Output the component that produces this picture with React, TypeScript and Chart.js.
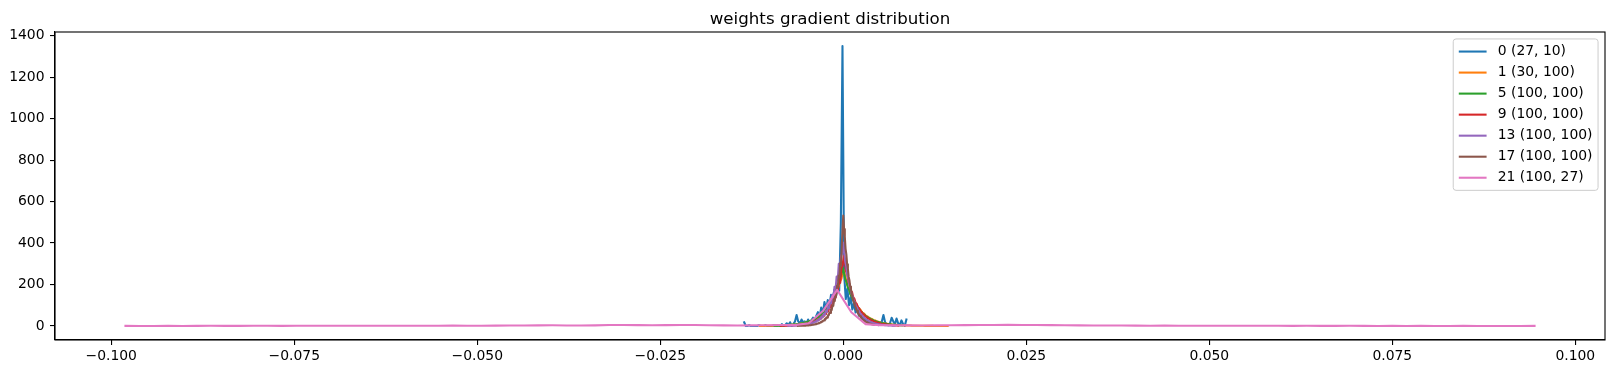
import React, { useEffect, useRef } from "react";
import { Chart, registerables } from "chart.js";

Chart.register(...registerables);

const FONT = "'DejaVu Sans', 'Liberation Sans', sans-serif";
const TITLE = "weights gradient distribution";

const LABELS = [
  "0 (27, 10)",
  "1 (30, 100)",
  "5 (100, 100)",
  "9 (100, 100)",
  "13 (100, 100)",
  "17 (100, 100)",
  "21 (100, 27)",
];

const COLORS = ["#1f77b4", "#ff7f0e", "#2ca02c", "#d62728", "#9467bd", "#8c564b", "#e377c2"];

// histogram bin left edges: first and last (100 bins each)
const BIN_LO = [-0.01354, -0.0114, -0.0094, -0.0085, -0.0075, -0.0062, -0.09806];
const BIN_HI = [0.00862, 0.01426, 0.008, 0.0075, 0.007, 0.0042, 0.09443];

const L0 = [
  18, 0, 0, 4, 0, 0, 0, 0, 0, 4, 0, 0, 0, 4, 0, 0, 0, 0, 4, 0, 0, 4, 0, 9, 0, 4, 13, 4, 18, 0, 9, 22,
  53, 22, 13, 31, 18, 22, 13, 31, 18, 27, 40, 22, 49, 67, 40, 89, 58, 116, 80, 125, 98, 150, 120, 175,
  140, 200, 170, 497, 1350, 250, 130, 180, 100, 140, 80, 110, 65, 80, 50, 58, 36, 40, 27, 31, 18, 22,
  13, 18, 9, 13, 4, 9, 22, 53, 18, 9, 4, 13, 40, 22, 9, 36, 13, 4, 27, 9, 0, 31,
];

const L1 = [
  0.5, 0.7, 0.6, 0.9, 1.0, 1.0, 1.4, 1.3, 1.8, 2.0, 2.1, 2.9, 2.8, 3.6, 4.1, 4.5, 5.6, 6.0, 7.4, 7.9,
  9.8, 10.5, 12.9, 13.6, 16.5, 18.2, 22.8, 24.1, 30.2, 32.0, 39.5, 42.1, 51.8, 56.0, 69.1, 74.3, 91.0,
  97.5, 121, 130, 160, 172, 210, 228, 272, 240, 200, 182, 150, 138, 113, 104, 85, 79, 64, 59, 49, 45,
  37, 34, 28, 26, 21, 19.6, 16, 14.8, 12.1, 11.2, 9.2, 8.4, 7.0, 6.4, 5.3, 4.9, 4.0, 3.7, 3.0, 2.8, 2.3,
  2.1, 1.7, 1.6, 1.3, 1.2, 1.0, 0.9, 0.8, 0.7, 0.6, 0.55, 0.45, 0.42, 0.35, 0.32, 0.27, 0.25, 0.2, 0.2,
  0.15, 0.15,
];

const L5 = [
  1.2, 2.4, 1.5, 2.8, 1.9, 3.0, 2.4, 3.6, 2.9, 4.4, 3.5, 5.3, 4.6, 6.4, 5.6, 7.6, 7.0, 9.1, 8.3, 11.0,
  10.5, 13.3, 12.8, 16.0, 15.7, 19.5, 19.0, 23.4, 23.1, 28.5, 28.0, 34.6, 34.2, 42.0, 42.5, 50.1, 51.0,
  61.5, 62.3, 74.0, 76.5, 90.2, 93.0, 110, 113, 132, 137, 160, 168, 195, 204, 236, 248, 282, 258, 226,
  212, 186, 175, 152, 143, 125, 118, 103, 97, 85, 80, 69, 66, 57, 54, 47, 45, 39, 37, 32, 30.5, 26.4,
  25.0, 21.6, 20.6, 17.8, 17.0, 14.6, 14.0, 12.0, 11.5, 9.9, 9.5, 8.1, 7.8, 6.7, 6.4, 5.5, 5.3, 4.5,
  4.4, 3.7, 3.6, 3.0,
];

const L9 = [
  0.8, 1.5, 1.0, 1.6, 1.3, 2.0, 1.8, 2.5, 2.3, 3.1, 2.8, 3.9, 3.4, 4.8, 4.3, 5.9, 5.3, 7.3, 6.6, 9.0,
  8.2, 11.2, 10.1, 13.8, 12.6, 17.0, 15.6, 21.0, 19.5, 26.1, 24.2, 32.5, 30.0, 40.5, 37.2, 50.4, 46.5,
  62.8, 58.0, 78.0, 71.5, 97.0, 89.0, 120, 110, 148, 136, 182, 168, 225, 208, 280, 290, 338, 305, 262,
  248, 212, 200, 171, 163, 139, 131, 112, 106, 90, 86, 72, 69, 59, 56, 47, 45, 38, 36.5, 31, 29.4, 25,
  23.7, 20.1, 19.1, 16.2, 15.4, 13.1, 12.4, 10.6, 10.0, 8.5, 8.1, 6.9, 6.5, 5.6, 5.3, 4.5, 4.3, 3.6,
  3.4, 2.9, 2.8, 2.3,
];

const L13 = [
  0.7, 1.4, 0.9, 1.6, 1.2, 2.0, 1.6, 2.6, 2.1, 3.3, 2.7, 4.2, 3.5, 5.4, 4.6, 6.9, 5.9, 8.7, 7.6, 11.0,
  9.8, 14.0, 12.5, 17.8, 16.0, 22.5, 20.5, 28.6, 26.0, 36.2, 33.0, 46.0, 42.0, 58.5, 53.5, 74.0, 68.0,
  94.0, 86.0, 119, 109, 150, 138, 189, 175, 238, 220, 300, 278, 335, 348, 402, 362, 310, 288, 244, 228,
  192, 181, 152, 143, 121, 114, 96, 90, 76, 72, 60, 57, 47.5, 45, 37.5, 35.5, 29.6, 28.0, 23.4, 22.2,
  18.5, 17.5, 14.6, 13.9, 11.5, 11.0, 9.1, 8.7, 7.2, 6.9, 5.7, 5.4, 4.5, 4.3, 3.6, 3.4, 2.8, 2.7, 2.2,
  2.1, 1.8, 1.7, 1.4,
];

const L17 = [
  0.6, 0.9, 0.8, 1.1, 1.0, 1.3, 1.2, 1.6, 1.5, 2.0, 1.9, 2.5, 2.4, 3.1, 3.0, 3.8, 3.7, 4.8, 4.6, 5.9,
  5.8, 7.3, 7.2, 9.1, 8.9, 11.3, 11.0, 14.0, 13.8, 17.4, 17.1, 21.6, 21.0, 26.9, 26.2, 33.5, 32.5, 41.5,
  40.5, 51.8, 50.5, 64.5, 62.5, 80.5, 78.0, 100, 97, 125, 121, 156, 150, 195, 187, 243, 233, 303, 290,
  378, 462, 532, 468, 430, 372, 345, 298, 276, 238, 221, 190, 177, 152, 142, 122, 113, 97, 91, 78, 73,
  62, 58, 50, 46.5, 40, 37.2, 32, 29.8, 25.6, 23.9, 20.5, 19.1, 16.4, 15.3, 13.1, 12.2, 10.5, 9.8, 8.4,
  7.8, 6.7, 6.3,
];

const L21 = [
  0.5, 0.0, 0.3, 0.5, 0.3, 0.5, 0.8, 0.5, 0.5, 1.0, 0.8, 0.5, 0.8, 1.0, 0.8, 1.3, 1.0, 1.0, 1.3, 1.5,
  1.3, 1.0, 1.5, 1.8, 1.5, 1.3, 1.8, 2.1, 2.6, 3.1, 3.6, 2.6, 2.3, 3.1, 4.6, 5.1, 4.1, 3.6, 4.1, 5.1,
  4.6, 3.6, 3.1, 2.6, 3.1, 3.6, 4.6, 4.1, 13, 72, 174, 66, 9, 4, 3.6, 3.1, 2.6, 3.1, 3.6, 4.1, 4.6, 5.1,
  5.6, 5.1, 4.6, 4.1, 3.6, 3.1, 2.6, 2.3, 2.1, 1.8, 1.5, 1.8, 1.5, 1.3, 1.0, 1.3, 1.0, 0.8, 1.0, 0.8,
  0.5, 0.8, 0.5, 0.5, 0.8, 0.5, 0.3, 0.5, 0.3, 0.5, 0.3, 0.3, 0.5, 0.3, 0.0, 0.3, 0.3, 0.5,
];

const SERIES = [L0, L1, L5, L9, L13, L17, L21];

const X_TICKS = [-0.1, -0.075, -0.05, -0.025, 0, 0.025, 0.05, 0.075, 0.1];
const Y_TICKS = [0, 200, 400, 600, 800, 1000, 1200, 1400];

const TICK_FS = 13.9;
const TITLE_FS = 16.67;

function fmtX(v: number): string {
  const a = Math.abs(v) < 1e-12 ? 0 : v;
  return (a < 0 ? "\u2212" : "") + Math.abs(a).toFixed(3);
}

const decorPlugin = {
  id: "decor",
  afterDatasetsDraw(chart: any) {
    const { ctx, chartArea } = chart;
    const { left, right, top, bottom } = chartArea;
    ctx.save();
    ctx.strokeStyle = "#000";
    ctx.lineWidth = 1.1;
    ctx.strokeRect(left, top, right - left, bottom - top);
    ctx.restore();
  },
  afterDraw(chart: any) {
    const { ctx, chartArea } = chart;
    const { left, right, top } = chartArea;
    ctx.save();
    // title
    ctx.fillStyle = "#000";
    ctx.font = `${TITLE_FS}px ${FONT}`;
    ctx.textAlign = "center";
    ctx.textBaseline = "alphabetic";
    ctx.fillText(TITLE, (left + right) / 2, top - 8.33);

    // legend
    const fs = TICK_FS;
    ctx.font = `${fs}px ${FONT}`;
    const pad = 0.4 * fs;
    const handle = 2 * fs;
    const gap = 0.8 * fs;
    const rowH = 14.08;
    const spacing = 0.5 * fs;
    let maxW = 0;
    for (const l of LABELS) maxW = Math.max(maxW, ctx.measureText(l).width);
    const w = pad + handle + gap + maxW + pad;
    const h = 2 * pad + LABELS.length * rowH + (LABELS.length - 1) * spacing;
    const bx = right - 0.5 * fs - w;
    const by = top + 0.5 * fs;
    const r = 0.2 * fs;
    ctx.beginPath();
    ctx.moveTo(bx + r, by);
    ctx.lineTo(bx + w - r, by);
    ctx.arcTo(bx + w, by, bx + w, by + r, r);
    ctx.lineTo(bx + w, by + h - r);
    ctx.arcTo(bx + w, by + h, bx + w - r, by + h, r);
    ctx.lineTo(bx + r, by + h);
    ctx.arcTo(bx, by + h, bx, by + h - r, r);
    ctx.lineTo(bx, by + r);
    ctx.arcTo(bx, by, bx + r, by, r);
    ctx.closePath();
    ctx.fillStyle = "rgba(255,255,255,0.8)";
    ctx.fill();
    ctx.strokeStyle = "#cccccc";
    ctx.lineWidth = 1;
    ctx.stroke();

    ctx.textAlign = "left";
    ctx.textBaseline = "middle";
    LABELS.forEach((lab, i) => {
      const cy = by + pad + rowH / 2 + i * (rowH + spacing);
      ctx.strokeStyle = COLORS[i];
      ctx.lineWidth = 2.08;
      ctx.beginPath();
      ctx.moveTo(bx + pad, cy);
      ctx.lineTo(bx + pad + handle, cy);
      ctx.stroke();
      ctx.fillStyle = "#000";
      ctx.fillText(lab, bx + pad + handle + gap, cy);
    });
    ctx.restore();
  },
};

export default function App() {
  const ref = useRef<HTMLCanvasElement | null>(null);

  useEffect(() => {
    if (!ref.current) return;
    const datasets = SERIES.map((vals, i) => {
      const lo = BIN_LO[i];
      const hi = BIN_HI[i];
      const n = vals.length;
      const pts = vals.map((y, j) => ({ x: lo + ((hi - lo) * j) / (n - 1), y }));
      return {
        label: LABELS[i],
        data: pts,
        borderColor: COLORS[i],
        backgroundColor: COLORS[i],
        borderWidth: 2.08,
        pointRadius: 0,
        pointHoverRadius: 0,
        tension: 0,
        fill: false,
        borderJoinStyle: "round" as const,
        borderCapStyle: "square" as const,
        order: SERIES.length - 1 - i,
      };
    });

    const xmin = Math.min(...BIN_LO);
    const xmax = Math.max(...BIN_HI);
    const xpad = 0.05 * (xmax - xmin);
    let ymaxData = -Infinity;
    let yminData = Infinity;
    for (const s of SERIES) for (const v of s) { ymaxData = Math.max(ymaxData, v); yminData = Math.min(yminData, v); }
    const ypad = 0.05 * (ymaxData - yminData);

    const chart = new Chart(ref.current, {
      type: "line",
      data: { datasets },
      options: {
        animation: false,
        responsive: false,
        devicePixelRatio: 1,
        events: [],
        parsing: false as any,
        normalized: true,
        layout: { padding: { top: 32, right: 9, left: 0, bottom: 0 } },
        plugins: {
          legend: { display: false },
          title: { display: false },
          tooltip: { enabled: false },
        },
        scales: {
          x: {
            type: "linear",
            min: xmin - xpad,
            max: xmax + xpad,
            afterBuildTicks: (s: any) => {
              s.ticks = X_TICKS.map((v) => ({ value: v }));
            },
            afterFit: (s: any) => {
              s.height = 34;
            },
            ticks: {
              callback: (v: any) => fmtX(Number(v)),
              font: { size: TICK_FS, family: FONT },
              color: "#000",
              padding: 3,
              maxRotation: 0,
              autoSkip: false,
            },
            grid: {
              display: true,
              drawOnChartArea: false,
              drawTicks: true,
              tickLength: 5,
              color: "#000",
              lineWidth: 1.1,
            },
            border: { display: true, color: "#000", width: 1.1 },
          },
          y: {
            type: "linear",
            min: yminData - ypad,
            max: ymaxData + ypad,
            afterBuildTicks: (s: any) => {
              s.ticks = Y_TICKS.map((v) => ({ value: v }));
            },
            afterFit: (s: any) => {
              s.width = 55;
            },
            ticks: {
              callback: (v: any) => String(v),
              font: { size: TICK_FS, family: FONT },
              color: "#000",
              padding: 5.5,
              autoSkip: false,
            },
            grid: {
              display: true,
              drawOnChartArea: false,
              drawTicks: true,
              tickLength: 5,
              color: "#000",
              lineWidth: 1.1,
            },
            border: { display: true, color: "#000", width: 1.1 },
          },
        },
      },
      plugins: [decorPlugin],
    });
    return () => chart.destroy();
  }, []);

  return (
    <div style={{ position: "fixed", left: 0, top: 0, width: 1614, height: 374, background: "#fff" }}>
      <canvas ref={ref} width={1614} height={374} style={{ display: "block", width: 1614, height: 374 }} />
    </div>
  );
}
